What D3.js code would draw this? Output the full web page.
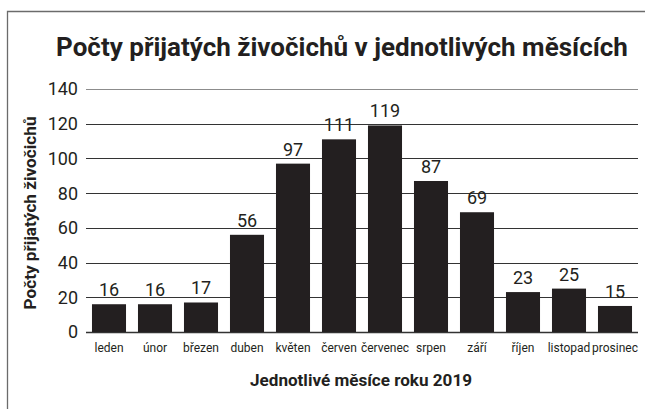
<!doctype html>
<meta charset="utf-8">
<style>
    body { margin: 0; background: #fff; }
    text { font-family: Roboto, "Open Sans", sans-serif; fill: #231f20; }
</style>
<body>
<script src="https://d3js.org/d3.v7.min.js"></script>
<script>
    const months = ['leden', 'únor', 'březen', 'duben', 'květen', 'červen', 'červenec', 'srpen', 'září', 'říjen', 'listopad', 'prosinec'];
    const counts = [16, 16, 17, 56, 97, 111, 119, 87, 69, 23, 25, 15];
    const yTicks = [0, 20, 40, 60, 80, 100, 120, 140];

    const width = 645, height = 409;
    const margin = {top: 89, right: 7, bottom: 77, left: 86};

    const svg = d3.select('body').append('svg')
        .attr('width', width)
        .attr('height', height);

    // frame (only top and left edges are inside the picture)
    svg.append('path')
        .attr('d', `M7.5,${height} V11.5 H${width}`)
        .attr('fill', 'none')
        .attr('stroke', '#6b6b6b')
        .attr('stroke-width', 1.3);

    const x = d3.scaleBand().domain(months)
        .range([margin.left, width - margin.right])
        .paddingInner(0.26).paddingOuter(0.13);
    const y = d3.scaleLinear().domain([0, 140]).range([height - margin.bottom, margin.top]);

    // gridlines
    svg.append('g').selectAll('line')
        .data(yTicks)
        .join('line')
        .attr('x1', margin.left).attr('x2', width - margin.right)
        .attr('y1', d => Math.round(y(d)) + 0.5).attr('y2', d => Math.round(y(d)) + 0.5)
        .attr('stroke', d => d === 140 ? '#8c8c8c' : '#333')
        .attr('stroke-width', d => d === 0 ? 1.4 : 1);

    // y tick labels
    svg.append('g').selectAll('text')
        .data(yTicks)
        .join('text')
        .attr('x', margin.left - 8)
        .attr('y', d => y(d))
        .attr('dy', '0.36em')
        .attr('text-anchor', 'end')
        .attr('font-size', 18)
        .text(d => d);

    // bars
    svg.append('g').selectAll('rect')
        .data(counts)
        .join('rect')
        .attr('x', (d, i) => x(months[i]))
        .attr('y', d => y(d))
        .attr('width', x.bandwidth())
        .attr('height', d => y(0) - y(d))
        .attr('fill', '#231f20');

    // value labels
    svg.append('g').selectAll('text')
        .data(counts)
        .join('text')
        .attr('x', (d, i) => x(months[i]) + x.bandwidth() / 2)
        .attr('y', d => y(d) - 8)
        .attr('text-anchor', 'middle')
        .attr('font-size', 18)
        .text(d => d);

    // month labels
    svg.append('g').selectAll('text')
        .data(months)
        .join('text')
        .attr('x', d => x(d) + x.bandwidth() / 2)
        .attr('y', 352)
        .attr('text-anchor', 'middle')
        .attr('font-size', 12)
        .text(d => d);

    // titles
    svg.append('text')
        .attr('x', 342).attr('y', 56)
        .attr('text-anchor', 'middle')
        .attr('font-size', 26)
        .attr('font-weight', 700)
        .text('Počty přijatých živočichů v jednotlivých měsících');

    svg.append('text')
        .attr('x', 361).attr('y', 386)
        .attr('text-anchor', 'middle')
        .attr('font-size', 16)
        .attr('font-weight', 700)
        .attr('textLength', 222)
        .attr('lengthAdjust', 'spacingAndGlyphs')
        .text('Jednotlivé měsíce roku 2019');

    svg.append('text')
        .attr('transform', 'translate(36,213) rotate(-90)')
        .attr('text-anchor', 'middle')
        .attr('font-size', 17)
        .attr('font-weight', 700)
        .attr('textLength', 193)
        .attr('lengthAdjust', 'spacingAndGlyphs')
        .text('Počty přijatých živočichů');
</script>
